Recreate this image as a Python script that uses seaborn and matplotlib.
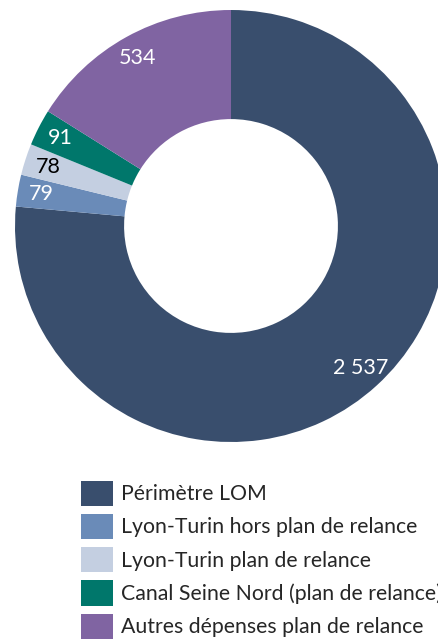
import matplotlib
matplotlib.use("Agg")
import matplotlib.pyplot as plt
import seaborn as sns

# --- Données (M€) ---
categories = ["Périmètre LOM",
              "Lyon-Turin hors plan de relance",
              "Lyon-Turin plan de relance",
              "Canal Seine Nord (plan de relance)",
              "Autres dépenses plan de relance"]
values = [2537, 79, 78, 91, 534]
colors = ["#394e6d", "#6a8bb8", "#c4cfe1", "#00776b", "#8064a2"]
label_colors = ["white", "white", "black", "white", "white"]

sns.set_theme(style="white")
plt.rcParams["font.family"] = ["Lato", "DejaVu Sans"]

W, H = 439, 641
fig = plt.figure(figsize=(W / 100, H / 100), dpi=100)

# position du disque (centre ~ (231, 226) px, rayon ~ 216 px)
cx, cy, r = 231, 226, 216
ax = fig.add_axes([(cx - r) / W, (H - cy - r) / H, 2 * r / W, 2 * r / H])

total = sum(values)


def fmt(p):
    v = int(round(p * total / 100))
    return f"{v:,}".replace(",", " ")


wedges, texts, autotexts = ax.pie(
    values, colors=colors, startangle=90, counterclock=False,
    wedgeprops=dict(width=0.505, linewidth=0),
    autopct=fmt, pctdistance=0.89,
    textprops=dict(fontsize=15.5),
)
for t, c in zip(autotexts, label_colors):
    t.set_color(c)

ax.set_xlim(-1, 1)
ax.set_ylim(-1, 1)
ax.set_axis_off()

fig.legend(wedges, categories, loc="upper left",
           bbox_to_anchor=(73 / W, 1 - 472 / H),
           frameon=False, fontsize=15.3,
           handlelength=1.5, handleheight=1.45, handletextpad=0.35,
           labelspacing=0.38, borderaxespad=0)

fig.savefig("out.png", dpi=100)
